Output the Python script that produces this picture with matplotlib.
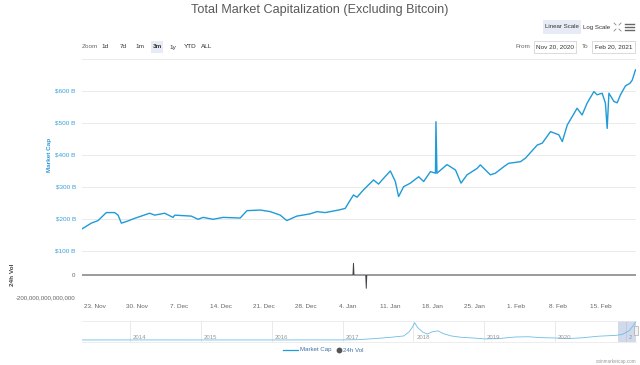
import pandas as pd
import matplotlib
matplotlib.use('Agg')
import matplotlib.pyplot as plt
import matplotlib.dates as mdates
from matplotlib.ticker import FuncFormatter
from matplotlib.patches import Rectangle
from matplotlib.lines import Line2D

plt.rcParams['font.family'] = ['Liberation Sans', 'DejaVu Sans']

# Market cap excluding bitcoin, in billions of USD
cap_times = [
    "2020-11-20 20:00", "2020-11-22 09:00", "2020-11-23 12:00", "2020-11-24 21:00",
    "2020-11-26 06:00", "2020-11-26 20:00", "2020-11-27 09:00", "2020-11-28 05:00",
    "2020-11-29 14:00", "2020-12-02 02:00", "2020-12-02 22:00", "2020-12-04 14:00",
    "2020-12-05 23:00", "2020-12-06 06:00", "2020-12-09 00:00", "2020-12-10 03:00",
    "2020-12-10 23:00", "2020-12-12 15:00", "2020-12-14 07:00", "2020-12-17 03:00",
    "2020-12-18 06:00", "2020-12-20 11:00", "2020-12-22 03:00", "2020-12-23 19:00",
    "2020-12-24 21:00", "2020-12-26 13:00", "2020-12-28 18:00", "2020-12-29 21:00",
    "2020-12-31 06:00", "2021-01-02 12:00", "2021-01-03 14:00", "2021-01-04 10:00",
    "2021-01-04 23:00", "2021-01-05 13:00", "2021-01-06 15:00", "2021-01-08 07:00",
    "2021-01-09 03:00", "2021-01-09 23:00", "2021-01-11 02:00", "2021-01-11 22:00",
    "2021-01-12 11:00", "2021-01-13 07:00", "2021-01-14 10:00", "2021-01-15 19:00",
    "2021-01-16 15:00", "2021-01-17 18:00", "2021-01-18 14:00", "2021-01-18 16:00",
    "2021-01-18 20:00", "2021-01-20 12:00", "2021-01-21 22:00", "2021-01-22 20:00",
    "2021-01-23 20:00", "2021-01-25 12:00", "2021-01-26 01:00", "2021-01-27 17:00",
    "2021-01-28 13:00", "2021-01-29 22:00", "2021-01-30 18:00", "2021-02-01 17:00",
    "2021-02-02 13:00", "2021-02-04 12:00", "2021-02-05 08:00", "2021-02-06 17:00",
    "2021-02-08 02:00", "2021-02-08 16:00", "2021-02-09 12:00", "2021-02-11 03:00",
    "2021-02-11 23:00", "2021-02-12 19:00", "2021-02-13 22:00", "2021-02-14 11:00",
    "2021-02-15 07:00", "2021-02-15 20:00", "2021-02-16 03:00", "2021-02-16 10:00",
    "2021-02-17 06:00", "2021-02-17 19:00", "2021-02-18 08:00", "2021-02-19 04:00",
    "2021-02-19 22:00", "2021-02-20 07:00", "2021-02-20 20:00",
]
cap_values = [
    169, 187, 195, 220, 220, 212, 187, 192, 202, 218, 212, 218,
    205, 212, 209, 199, 205, 199, 205, 203, 226, 228, 223, 212,
    195, 209, 216, 223, 220, 228, 233, 259, 275, 268, 291, 322,
    309, 327, 350, 317, 270, 301, 312, 332, 317, 348, 343, 504,
    343, 370, 353, 312, 338, 358, 369, 338, 343, 363, 374, 379,
    390, 431, 437, 473, 463, 442, 494, 546, 525, 562, 598, 588,
    593, 562, 483, 593, 567, 563, 588, 616, 624, 634, 666,
]

# 24h volume, in USD (two bad data spikes)
vol_times = ["2020-11-20 20:00", "2020-12-15 00:00", "2021-01-04 21:00", "2021-01-04 23:00",
             "2021-01-05 01:00", "2021-01-07 00:00", "2021-01-07 02:00", "2021-01-07 04:00",
             "2021-02-20 20:00"]
vol_values = [6e10, 7e10, 8e10, 1.06e14, 1.2e11, 1.3e11, -1.21e14, 1.3e11, 1.5e11]

# Navigator: full history, billions of USD
nav_times = ["2013-04-28", "2014-01-01", "2014-06-01", "2015-01-01", "2016-01-01",
             "2016-06-01", "2017-01-01", "2017-03-15", "2017-06-13", "2017-09-06",
             "2017-11-13", "2017-12-10", "2017-12-28", "2018-01-08", "2018-01-22",
             "2018-02-17", "2018-03-14", "2018-04-08", "2018-05-08", "2018-06-03",
             "2018-07-15", "2018-09-05", "2018-11-13", "2019-01-04", "2019-03-14",
             "2019-06-09", "2019-08-17", "2019-10-26", "2020-01-01", "2020-03-11",
             "2020-05-19", "2020-08-13", "2020-11-09", "2020-12-13", "2021-01-18",
             "2021-02-12", "2021-02-20"]
nav_values = [1, 2, 2, 1, 1, 3, 3, 10, 50, 100, 150, 300, 480, 640, 470,
              300, 220, 300, 340, 240, 150, 100, 70, 40, 50, 110, 120, 85, 75, 55,
              80, 140, 170, 205, 340, 560, 665]

y_ticks = [100, 200, 300, 400, 500, 600]
years = [2014, 2015, 2016, 2017, 2018, 2019, 2020, 2021]
zoom_buttons = ["1d", "7d", "1m", "3m", "1y", "YTD", "ALL"]

W, H = 640, 365
def fx(px):
    return px / W
def fy(py):
    return 1 - py / H

blue = '#1f9bd7'
grid = '#e6e6e6'
grey = '#666666'

fig = plt.figure(figsize=(6.4, 3.65), dpi=100)
fig.patch.set_facecolor('white')

t_cap = pd.to_datetime(cap_times)
t_vol = pd.to_datetime(vol_times)
t_nav = pd.to_datetime(nav_times)

# main panel
ax = fig.add_axes([fx(82), fy(262), fx(635.5) - fx(82), fy(58) - fy(262)])
ax.plot(t_cap, cap_values, color=blue, lw=1.0)
ax.set_xlim(t_cap[0], t_cap[-1])
ax.set_ylim(65.6, 703)
ax.set_yticks(y_ticks + [700])
ax.set_yticklabels([f"${v} B" for v in y_ticks] + [""])
ax.grid(axis='y', color=grid, lw=0.6)
ax.set_axisbelow(True)
ax.tick_params(axis='y', length=0, labelsize=4.6, labelcolor='#3a9fd8', pad=4.5)
ax.tick_params(axis='x', length=0, labelbottom=False)
for s in ax.spines.values():
    s.set_visible(False)

# volume panel
axv = fig.add_axes([fx(82), fy(297), fx(635.5) - fx(82), fy(262) - fy(297)], sharex=ax)
axv.plot(t_vol, vol_values, color='#434348', lw=0.7)
axv.set_ylim(-2e14, 1.18e14)
axv.set_yticks([-2e14, 0])
axv.yaxis.set_major_formatter(FuncFormatter(lambda v, p: f"{int(v):,}"))
axv.grid(axis='y', color=grid, lw=0.6)
axv.set_axisbelow(True)
axv.xaxis.set_major_locator(mdates.WeekdayLocator(byweekday=mdates.MO))
axv.xaxis.set_major_formatter(FuncFormatter(
    lambda v, p: f"{mdates.num2date(v).day}. {mdates.num2date(v):%b}"))
axv.tick_params(axis='y', length=0, labelsize=4.4, labelcolor=grey, pad=5)
axv.tick_params(axis='x', length=0, labelsize=4.6, labelcolor=grey, pad=5)
for s in axv.spines.values():
    s.set_visible(False)

# navigator
axn = fig.add_axes([fx(82), fy(342), fx(635.5) - fx(82), fy(321) - fy(342)])
axn.plot(t_nav, nav_values, color='#6cbde6', lw=0.6)
axn.set_xlim(t_nav[0], t_nav[-1])
axn.set_ylim(-74, 702)
for yr in years:
    d = pd.Timestamp(f"{yr}-01-01")
    axn.axvline(d, color=grid, lw=0.6, zorder=0)
    axn.text(d + pd.Timedelta(days=15), 0, str(yr) if yr < 2021 else "2", fontsize=4.3,
             color='#999999', va='bottom', ha='left', clip_on=True)
axn.axvspan(pd.Timestamp("2020-11-20"), t_nav[-1], color='#6685c2', alpha=0.3, lw=0)
axn.set_xticks([])
axn.set_yticks([])
for k, s in axn.spines.items():
    s.set_visible(k in ('top', 'bottom'))
    s.set_color(grid)
    s.set_linewidth(0.5)
fig.add_artist(Rectangle((fx(633.5), fy(335)), fx(4), fy(326) - fy(335),
                         facecolor='#f2f2f2', edgecolor='#999999', lw=0.4))

# titles and axis names
fig.text(0.5, fy(10), "Total Market Capitalization (Excluding Bitcoin)",
         ha='center', va='center', fontsize=9.1, color='#5a5a5a')
fig.text(fx(50), fy(155), "Market Cap", rotation=90, ha='center', va='center',
         fontsize=4.6, color='#2a98d5', fontweight='bold')
fig.text(fx(12), fy(275), "24h Vol", rotation=90, ha='center', va='center',
         fontsize=4.6, color='#444444', fontweight='bold')

# scale buttons and menu
fig.add_artist(Rectangle((fx(543), fy(34)), fx(38), fy(20) - fy(34),
                         facecolor='#e6ebf5', edgecolor='none'))
fig.text(fx(562), fy(27), "Linear Scale", ha='center', va='center', fontsize=4.4, color='#333333')
fig.text(fx(597), fy(27), "Log Scale", ha='center', va='center', fontsize=4.4, color='#333333')
for i in range(3):
    yy = fy(24 + i * 3)
    fig.add_artist(Line2D([fx(625), fx(634)], [yy, yy], color='#666666', lw=1.0))
for (a, b, c, d) in [(614, 23, 1, 1), (621, 23, -1, 1), (614, 31, 1, -1), (621, 31, -1, -1)]:
    fig.add_artist(Line2D([fx(a), fx(a + 2 * c)], [fy(b), fy(b + 2 * d)], color='#888888', lw=0.6))

# zoom selector
fig.text(fx(82), fy(47), "Zoom", ha='left', va='center', fontsize=4.6, color=grey)
zx = [105, 123, 140, 157, 173, 190, 207]
for lab, x in zip(zoom_buttons, zx):
    if lab == "3m":
        fig.add_artist(Rectangle((fx(x - 6), fy(53)), fx(12), fy(41) - fy(53),
                                 facecolor='#e6ebf5', edgecolor='none'))
    fig.text(fx(x), fy(47), lab, ha='center', va='center', fontsize=4.6, color='#333333',
             fontweight='bold' if lab == "3m" else 'normal')

# date range inputs
fig.text(fx(515), fy(47), "From", ha='left', va='center', fontsize=4.6, color=grey)
fig.add_artist(Rectangle((fx(534), fy(53)), fx(42), fy(41) - fy(53),
                         facecolor='white', edgecolor='#cccccc', lw=0.5))
fig.text(fx(555), fy(47), "Nov 20, 2020", ha='center', va='center', fontsize=4.6, color='#333333')
fig.text(fx(582), fy(47), "To", ha='left', va='center', fontsize=4.6, color=grey)
fig.add_artist(Rectangle((fx(592), fy(53)), fx(43), fy(41) - fy(53),
                         facecolor='white', edgecolor='#cccccc', lw=0.5))
fig.text(fx(613.5), fy(47), "Feb 20, 2021", ha='center', va='center', fontsize=4.6, color='#333333')

# legend
fig.add_artist(Line2D([fx(283), fx(298)], [fy(350), fy(350)], color=blue, lw=0.9))
fig.text(fx(300.5), fy(350), "Market Cap", ha='left', va='center', fontsize=4.4, color='#3d6fa8')
fig.add_artist(Line2D([fx(338.5)], [fy(350)], marker='o', color='#555555', markersize=3.2))
fig.text(fx(343), fy(350), "24h Vol", ha='left', va='center', fontsize=4.4, color='#3d6fa8')

fig.text(fx(636), fy(361), "coinmarketcap.com", ha='right', va='center', fontsize=3.3, color='#999999')

fig.savefig("out.png", dpi=100)
